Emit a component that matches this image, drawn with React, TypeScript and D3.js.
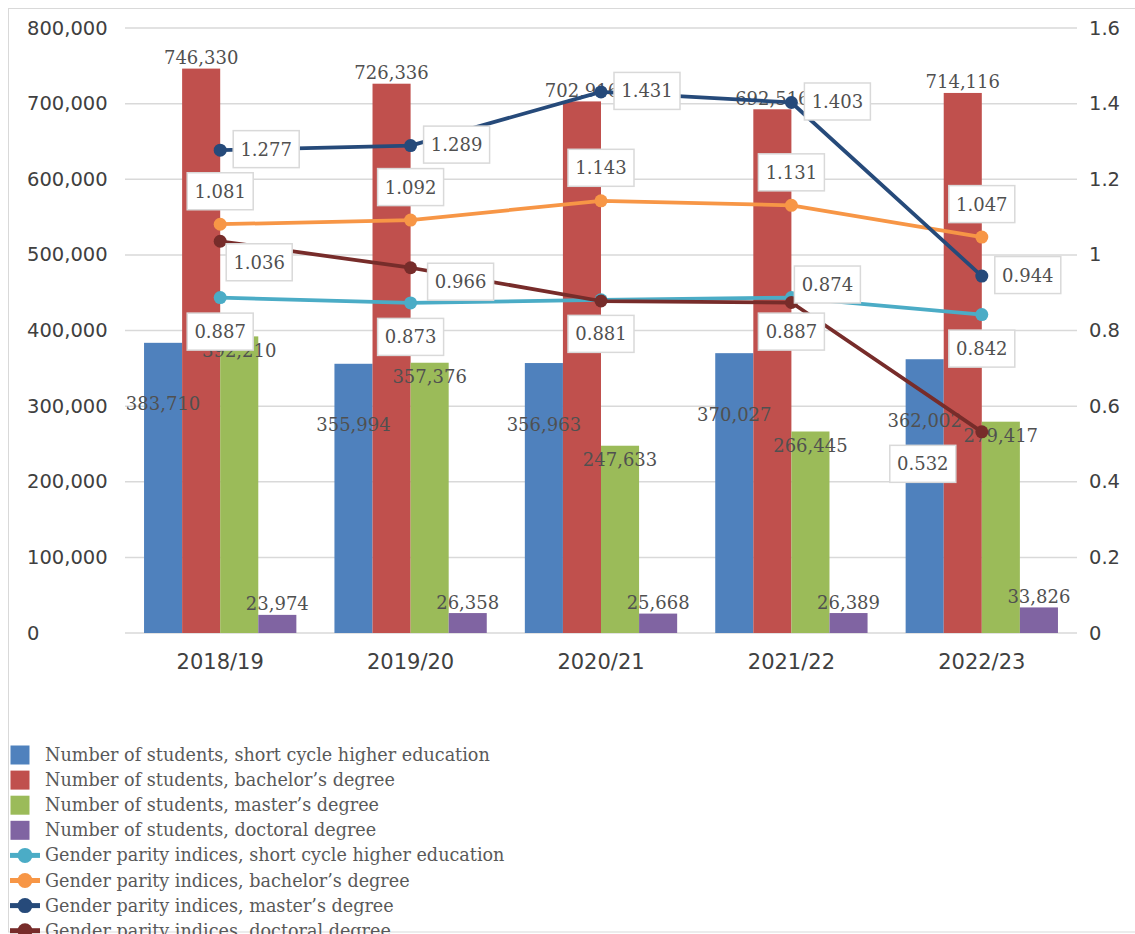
import React from "react";
import * as d3 from "d3";

const categories = ["2018/19", "2019/20", "2020/21", "2021/22", "2022/23"];

const barSeriesNames = [
  "Number of students, short cycle higher education",
  "Number of students, bachelor\u2019s degree",
  "Number of students, master\u2019s degree",
  "Number of students, doctoral degree",
];
const shortCycleStudents = [383710, 355994, 356963, 370027, 362002];
const bachelorStudents = [746330, 726336, 702916, 692516, 714116];
const masterStudents = [392210, 357376, 247633, 266445, 279417];
const doctoralStudents = [23974, 26358, 25668, 26389, 33826];

const lineSeriesNames = [
  "Gender parity indices, short cycle higher education",
  "Gender parity indices, bachelor\u2019s degree",
  "Gender parity indices, master\u2019s degree",
  "Gender parity indices, doctoral degree",
];
const shortCycleGPI = [0.887, 0.873, 0.881, 0.887, 0.842];
const bachelorGPI = [1.081, 1.092, 1.143, 1.131, 1.047];
const masterGPI = [1.277, 1.289, 1.431, 1.403, 0.944];
const doctoralGPI = [1.036, 0.966, 0.878, 0.874, 0.532];
// which GPI labels are shown (doctoral 2020/21 label is hidden in the source)
const doctoralLabelShown = [true, true, false, true, true];

const leftTicks = [0, 100000, 200000, 300000, 400000, 500000, 600000, 700000, 800000];
const rightTicks = [0, 0.2, 0.4, 0.6, 0.8, 1, 1.2, 1.4, 1.6];

// ---- styling / layout ----
const W = 1135;
const H = 934;
const plotLeft = 125;
const plotRight = 1077;
const plotTop = 28;
const plotBottom = 633;

const barColors = ["#4f81bd", "#c0504d", "#9bbb59", "#8064a2"];
const lineColors = ["#4bacc6", "#f79646", "#264a7a", "#772c2a"];

// label box offsets (box centre relative to point) per line series
const lineLabelOffsets = [
  [[0, 34], [0, 34], [0, 34], [0, 34], [0, 34]],
  [[0, -33], [0, -33], [0, -33], [0, -33], [0, -33]],
  [[46, -1], [46, -1], [46, -1], [46, -1], [46, -1]],
  [[39, 21], [50, 14], [0, 0], [36, -18], [-59, 32]],
];

const fmtInt = d3.format(",");

export default function App() {
  const barData = [shortCycleStudents, bachelorStudents, masterStudents, doctoralStudents];
  const lineData = [shortCycleGPI, bachelorGPI, masterGPI, doctoralGPI];
  const lineShown = [
    categories.map(() => true),
    categories.map(() => true),
    categories.map(() => true),
    doctoralLabelShown,
  ];

  const x = d3
    .scaleBand<string>()
    .domain(categories)
    .range([plotLeft, plotRight])
    .paddingInner(0.2)
    .paddingOuter(0.1);
  const x1 = d3
    .scaleBand<number>()
    .domain([0, 1, 2, 3])
    .range([0, x.bandwidth()]);
  const yL = d3.scaleLinear().domain([0, 800000]).range([plotBottom, plotTop]);
  const yR = d3.scaleLinear().domain([0, 1.6]).range([plotBottom, plotTop]);

  const cx = (c: string) => (x(c) as number) + x.bandwidth() / 2;

  const lineGen = d3
    .line<number>()
    .x((_, i) => cx(categories[i]))
    .y((d) => yR(d));

  const axisFont = "'DejaVu Sans', sans-serif";
  const serif = "'DejaVu Serif', serif";

  const barLabelY = (s: number, v: number) => {
    const top = yL(v);
    if (s === 0) return top + 61;
    if (s === 2) return top + 14;
    return top - 11;
  };

  const legendY0 = 755;
  const legendStep = 25.1;
  const legendFont = 17.6;

  return (
    <svg
      width={W}
      height={H}
      style={{ position: "absolute", left: 0, top: 0, background: "#fff" }}
    >
      <rect x={0} y={0} width={W} height={H} fill="#fff" />
      <rect x={8.5} y={8.5} width={1140} height={923.5} fill="none" stroke="#d9d9d9" strokeWidth={1} />

      {/* gridlines */}
      {leftTicks.map((t) => (
        <line
          key={"g" + t}
          x1={plotLeft}
          x2={plotRight}
          y1={yL(t)}
          y2={yL(t)}
          stroke="#d9d9d9"
          strokeWidth={1.5}
        />
      ))}

      {/* left axis labels */}
      {leftTicks.map((t) => (
        <text
          key={"l" + t}
          x={27}
          y={yL(t)}
          dominantBaseline="central"
          fontFamily={axisFont}
          fontSize={19.5}
          fill="#404040"
        >
          {fmtInt(t)}
        </text>
      ))}

      {/* right axis labels */}
      {rightTicks.map((t) => (
        <text
          key={"r" + t}
          x={1089}
          y={yR(t)}
          dominantBaseline="central"
          fontFamily={axisFont}
          fontSize={19.5}
          fill="#404040"
        >
          {String(+t.toFixed(1))}
        </text>
      ))}

      {/* category labels */}
      {categories.map((c) => (
        <text
          key={"c" + c}
          x={cx(c)}
          y={662}
          textAnchor="middle"
          dominantBaseline="central"
          fontFamily={axisFont}
          fontSize={21}
          fill="#404040"
        >
          {c}
        </text>
      ))}

      {/* bars */}
      {barData.map((series, s) =>
        series.map((v, i) => (
          <rect
            key={`b${s}-${i}`}
            x={(x(categories[i]) as number) + (x1(s) as number)}
            y={yL(v)}
            width={x1.bandwidth()}
            height={yL(0) - yL(v)}
            fill={barColors[s]}
          />
        ))
      )}

      {/* bar labels */}
      {barData.map((series, s) =>
        series.map((v, i) => (
          <text
            key={`bl${s}-${i}`}
            x={(x(categories[i]) as number) + (x1(s) as number) + x1.bandwidth() / 2}
            y={barLabelY(s, v)}
            textAnchor="middle"
            dominantBaseline="central"
            fontFamily={serif}
            fontSize={18}
            fill="#505050"
          >
            {fmtInt(v)}
          </text>
        ))
      )}

      {/* lines */}
      {lineData.map((series, s) => (
        <g key={"ln" + s}>
          <path d={lineGen(series) || ""} fill="none" stroke={lineColors[s]} strokeWidth={3.75} strokeLinejoin="round" />
          {series.map((v, i) => (
            <circle key={i} cx={cx(categories[i])} cy={yR(v)} r={6.5} fill={lineColors[s]} />
          ))}
        </g>
      ))}

      {/* line labels */}
      {lineData.map((series, s) =>
        series.map((v, i) => {
          if (!lineShown[s][i]) return null;
          const [dx, dy] = lineLabelOffsets[s][i];
          const bx = cx(categories[i]) + dx;
          const by = yR(v) + dy;
          const bw = 66;
          const bh = 37;
          return (
            <g key={`ll${s}-${i}`}>
              <rect
                x={bx - bw / 2}
                y={by - bh / 2}
                width={bw}
                height={bh}
                fill="#fff"
                stroke="#d9d9d9"
                strokeWidth={1.5}
              />
              <text
                x={bx}
                y={by}
                textAnchor="middle"
                dominantBaseline="central"
                fontFamily={serif}
                fontSize={18}
                fill="#505050"
              >
                {v.toFixed(3)}
              </text>
            </g>
          );
        })
      )}

      {/* legend */}
      {barSeriesNames.map((name, s) => {
        const cy = legendY0 + s * legendStep;
        return (
          <g key={"lgb" + s}>
            <rect x={10.5} y={cy - 9.5} width={19} height={19} fill={barColors[s]} />
            <text x={45} y={cy} dominantBaseline="central" fontFamily={serif} fontSize={legendFont} fill="#595959">
              {name}
            </text>
          </g>
        );
      })}
      {lineSeriesNames.map((name, s) => {
        const cy = legendY0 + (s + 4) * legendStep;
        return (
          <g key={"lgl" + s}>
            <line x1={10} x2={40} y1={cy} y2={cy} stroke={lineColors[s]} strokeWidth={5} />
            <circle cx={25} cy={cy} r={7.5} fill={lineColors[s]} />
            <text x={45} y={cy} dominantBaseline="central" fontFamily={serif} fontSize={legendFont} fill="#595959">
              {name}
            </text>
          </g>
        );
      })}
    </svg>
  );
}
